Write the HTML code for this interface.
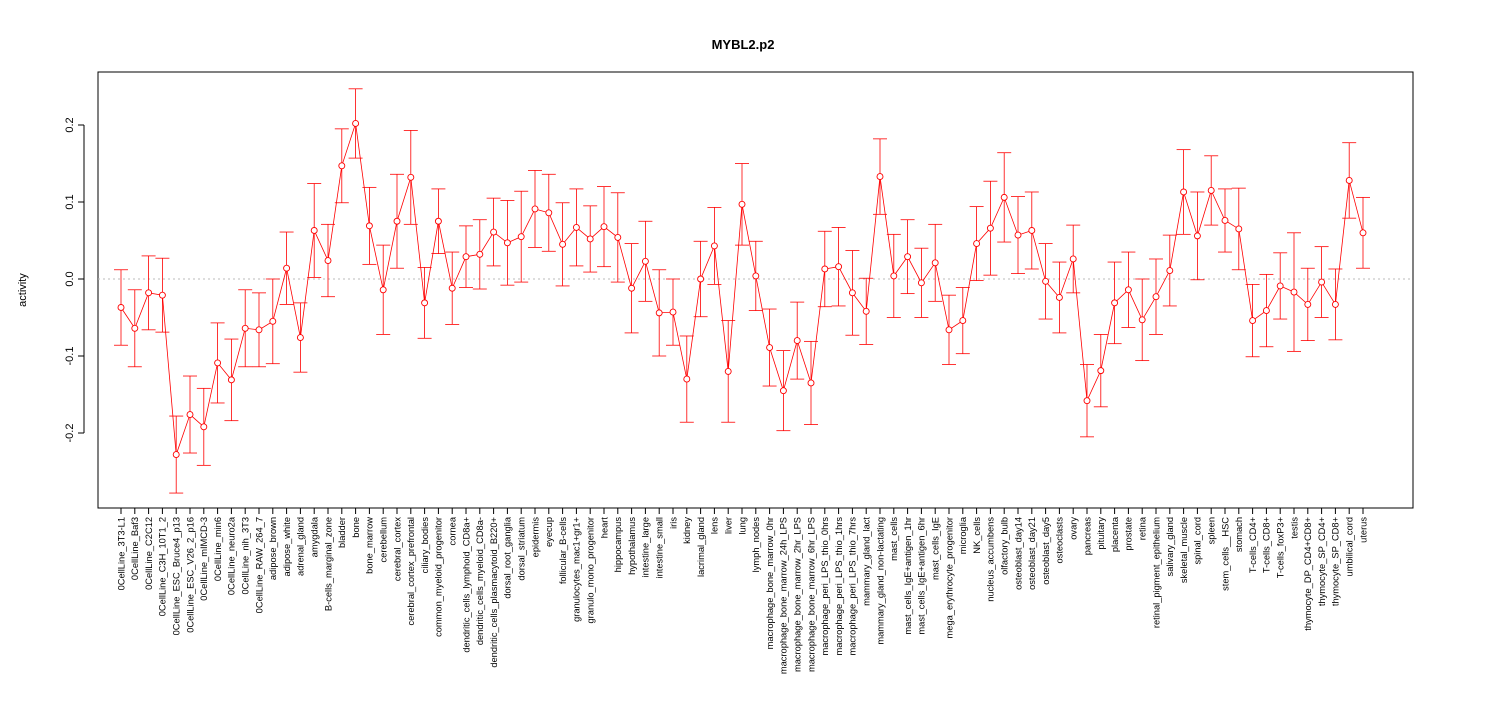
<!DOCTYPE html>
<html><head><meta charset="utf-8"><style>
html,body{margin:0;padding:0;background:#fff;}
svg{display:block;font-family:"Liberation Sans",sans-serif;}
</style></head><body>
<svg id="chart" width="1485" height="720">
<text x="743" y="49" text-anchor="middle" font-size="13" font-weight="bold">MYBL2.p2</text>
<text transform="translate(26,290) rotate(-90)" text-anchor="middle" font-size="11">activity</text>
<rect x="98" y="72" width="1315" height="436" fill="none" stroke="#000" stroke-width="1"/>
</svg>
<script>
const categories=["0CellLine_3T3-L1","0CellLine_Baf3","0CellLine_C2C12","0CellLine_C3H_10T1_2","0CellLine_ESC_Bruce4_p13","0CellLine_ESC_V26_2_p16","0CellLine_mIMCD-3","0CellLine_min6","0CellLine_neuro2a","0CellLine_nih_3T3","0CellLine_RAW_264_7","adipose_brown","adipose_white","adrenal_gland","amygdala","B-cells_marginal_zone","bladder","bone","bone_marrow","cerebellum","cerebral_cortex","cerebral_cortex_prefrontal","ciliary_bodies","common_myeloid_progenitor","cornea","dendritic_cells_lymphoid_CD8a+","dendritic_cells_myeloid_CD8a-","dendritic_cells_plasmacytoid_B220+","dorsal_root_ganglia","dorsal_striatum","epidermis","eyecup","follicular_B-cells","granulocytes_mac1+gr1+","granulo_mono_progenitor","heart","hippocampus","hypothalamus","intestine_large","intestine_small","iris","kidney","lacrimal_gland","lens","liver","lung","lymph_nodes","macrophage_bone_marrow_0hr","macrophage_bone_marrow_24h_LPS","macrophage_bone_marrow_2hr_LPS","macrophage_bone_marrow_6hr_LPS","macrophage_peri_LPS_thio_0hrs","macrophage_peri_LPS_thio_1hrs","macrophage_peri_LPS_thio_7hrs","mammary_gland_lact","mammary_gland_non-lactating","mast_cells","mast_cells_IgE+antigen_1hr","mast_cells_IgE+antigen_6hr","mast_cells_IgE","mega_erythrocyte_progenitor","microglia","NK_cells","nucleus_accumbens","olfactory_bulb","osteoblast_day14","osteoblast_day21","osteoblast_day5","osteoclasts","ovary","pancreas","pituitary","placenta","prostate","retina","retinal_pigment_epithelium","salivary_gland","skeletal_muscle","spinal_cord","spleen","stem_cells__HSC","stomach","T-cells_CD4+","T-cells_CD8+","T-cells_foxP3+","testis","thymocyte_DP_CD4+CD8+","thymocyte_SP_CD4+","thymocyte_SP_CD8+","umbilical_cord","uterus"];
const values=[-0.037,-0.064,-0.018,-0.021,-0.228,-0.176,-0.192,-0.109,-0.131,-0.064,-0.066,-0.055,0.014,-0.076,0.063,0.024,0.147,0.202,0.069,-0.014,0.075,0.132,-0.031,0.075,-0.012,0.029,0.032,0.061,0.047,0.055,0.091,0.086,0.045,0.067,0.052,0.068,0.054,-0.012,0.023,-0.044,-0.043,-0.130,0.000,0.043,-0.120,0.097,0.004,-0.089,-0.145,-0.080,-0.135,0.013,0.016,-0.018,-0.042,0.133,0.004,0.029,-0.005,0.021,-0.066,-0.054,0.046,0.066,0.106,0.057,0.063,-0.003,-0.024,0.026,-0.158,-0.119,-0.031,-0.014,-0.053,-0.023,0.011,0.113,0.056,0.115,0.076,0.065,-0.054,-0.041,-0.009,-0.017,-0.033,-0.004,-0.033,0.128,0.060];
const errors=[0.049,0.05,0.048,0.048,0.05,0.05,0.05,0.052,0.053,0.05,0.048,0.055,0.047,0.045,0.061,0.047,0.048,0.045,0.05,0.058,0.061,0.061,0.046,0.042,0.047,0.04,0.045,0.044,0.055,0.059,0.05,0.05,0.054,0.05,0.043,0.052,0.058,0.058,0.052,0.056,0.043,0.056,0.049,0.05,0.066,0.053,0.045,0.05,0.052,0.05,0.054,0.049,0.051,0.055,0.043,0.049,0.054,0.048,0.045,0.05,0.045,0.043,0.048,0.061,0.058,0.05,0.05,0.049,0.046,0.044,0.047,0.047,0.053,0.049,0.053,0.049,0.046,0.055,0.057,0.045,0.041,0.053,0.047,0.047,0.043,0.077,0.047,0.046,0.046,0.049,0.046];
const yTicks=[-0.2,-0.1,0.0,0.1,0.2];
const yTickLabels=["-0.2","-0.1","0.0","0.1","0.2"];

const svg=document.getElementById('chart');
const NS='http://www.w3.org/2000/svg';
function yScale(v){return 279-v*770;}
function xScale(i){return 121+i*(1363-121)/(categories.length-1);}
function mk(tag,attrs,parent){const e=document.createElementNS(NS,tag);for(const k in attrs)e.setAttribute(k,attrs[k]);(parent||svg).appendChild(e);return e;}

const zl=mk('line',{x1:98,x2:1413,y1:yScale(0),y2:yScale(0),stroke:'#bbb','stroke-dasharray':'2,3'});



const ax=mk('line',{x1:84,x2:84,y1:yScale(yTicks[0]),y2:yScale(yTicks[yTicks.length-1]),stroke:'#000'});


yTicks.forEach((t,i)=>{
  const tk=mk('line',{x1:78,x2:84,y1:yScale(t),y2:yScale(t),stroke:'#000'});
  
  
  const tl=mk('text',{transform:`translate(73,${yScale(t)}) rotate(-90)`,'text-anchor':'middle','font-size':'11'});
  tl.textContent=yTickLabels[i];
  
  
});

const xa=mk('line',{x1:xScale(0),x2:xScale(categories.length-1),y1:508,y2:508,stroke:'#000'});



const pts=values.map((v,i)=>xScale(i)+','+yScale(v)).join(' ');
const pl=mk('polyline',{points:pts,fill:'none',stroke:'#f00','stroke-width':'0.8'});



categories.forEach((c,i)=>{
  const x=xScale(i),v=values[i],e=errors[i];
  const g=mk('g',{});
  
  
  mk('line',{x1:x,x2:x,y1:yScale(v+e),y2:yScale(v-e),stroke:'#f00','stroke-width':'0.8'},g);
  mk('line',{x1:x-7,x2:x+7,y1:yScale(v+e),y2:yScale(v+e),stroke:'#f00','stroke-width':'0.8'},g);
  mk('line',{x1:x-7,x2:x+7,y1:yScale(v-e),y2:yScale(v-e),stroke:'#f00','stroke-width':'0.8'},g);
  mk('circle',{cx:x,cy:yScale(v),r:3,fill:'#fff',stroke:'#f00','stroke-width':'0.9'},g);
  const tk=mk('line',{x1:x,x2:x,y1:508,y2:514,stroke:'#000'});
  
  
  const t=mk('text',{transform:`translate(${x+3.3},517) rotate(-90)`,'text-anchor':'end','font-size':'9.3'});
  t.textContent=c;
  
  
});
</script>
</body></html>
